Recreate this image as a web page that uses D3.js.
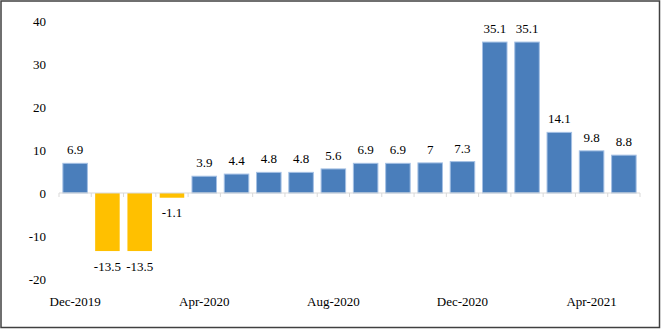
<!DOCTYPE html>
<html><head><meta charset="utf-8">
<script src="https://cdn.jsdelivr.net/npm/d3@7"></script>
<style>
html,body{margin:0;padding:0;background:#fff;}
svg{display:block;}
</style></head><body>
<svg id="c" width="661" height="329" font-family="'Times New Roman', 'Liberation Serif', Tinos, serif"></svg>
<script>
const categories = ["Dec-2019","Jan-2020","Feb-2020","Mar-2020","Apr-2020","May-2020","Jun-2020","Jul-2020","Aug-2020","Sep-2020","Oct-2020","Nov-2020","Dec-2020","Jan-2021","Feb-2021","Mar-2021","Apr-2021","May-2021"];
const values = [6.9,-13.5,-13.5,-1.1,3.9,4.4,4.8,4.8,5.6,6.9,6.9,7,7.3,35.1,35.1,14.1,9.8,8.8];
const yTicks = [-20,-10,0,10,20,30,40];
const xTickLabels = ["Dec-2019","Apr-2020","Aug-2020","Dec-2020","Apr-2021"];

const svg = d3.select("#c");
const W = 661, H = 329;
// frame
svg.append("rect").attr("x",1).attr("y",1).attr("width",W-2.5).attr("height",H-2.5)
  .attr("fill","none").attr("stroke","#404040").attr("stroke-width",1.5);

const x = d3.scaleBand().domain(categories).range([59,640]).paddingInner(0.24).paddingOuter(0.12);
const y = d3.scaleLinear().domain([-20,40]).range([279,21]);

// y tick labels
svg.append("g").selectAll("text").data(yTicks).join("text")
  .attr("x",46).attr("y",d=>y(d)).attr("dy","0.35em").attr("text-anchor","end")
  .attr("font-size",13).text(d=>d);

// bars
svg.append("g").selectAll("rect").data(values).join("rect")
  .attr("x",(d,i)=>x(categories[i]))
  .attr("width",x.bandwidth())
  .attr("y",d=>y(Math.max(0,d)))
  .attr("height",d=>Math.abs(y(d)-y(0)))
  .attr("fill",d=>d<0?"#ffc000":"#4a7ebb")
  .attr("stroke",d=>d<0?"none":"#a4c0e4").attr("stroke-width",1);

// zero axis
const ax = svg.append("g");
ax.append("line").attr("x1",59).attr("x2",640).attr("y1",y(0)).attr("y2",y(0))
  .attr("stroke","#d9d9d9").attr("stroke-width",1);
ax.selectAll("line.t").data(d3.range(categories.length+1)).join("line").attr("class","t")
  .attr("x1",i=>59+i*(581/categories.length)).attr("x2",i=>59+i*(581/categories.length))
  .attr("y1",y(0)).attr("y2",y(0)+4).attr("stroke","#d9d9d9").attr("stroke-width",1);

// data labels
svg.append("g").selectAll("text").data(values).join("text")
  .attr("x",(d,i)=>x(categories[i])+x.bandwidth()/2)
  .attr("y",d=>d<0?y(d)+15:y(d)-9)
  .attr("dy",d=>d<0?"0.35em":"0")
  .attr("text-anchor","middle").attr("font-size",13)
  .text(d=>d);

// x labels
svg.append("g").selectAll("text").data(xTickLabels).join("text")
  .attr("x",d=>x(d)+x.bandwidth()/2).attr("y",306)
  .attr("text-anchor","middle").attr("font-size",13).text(d=>d);
</script></body></html>
